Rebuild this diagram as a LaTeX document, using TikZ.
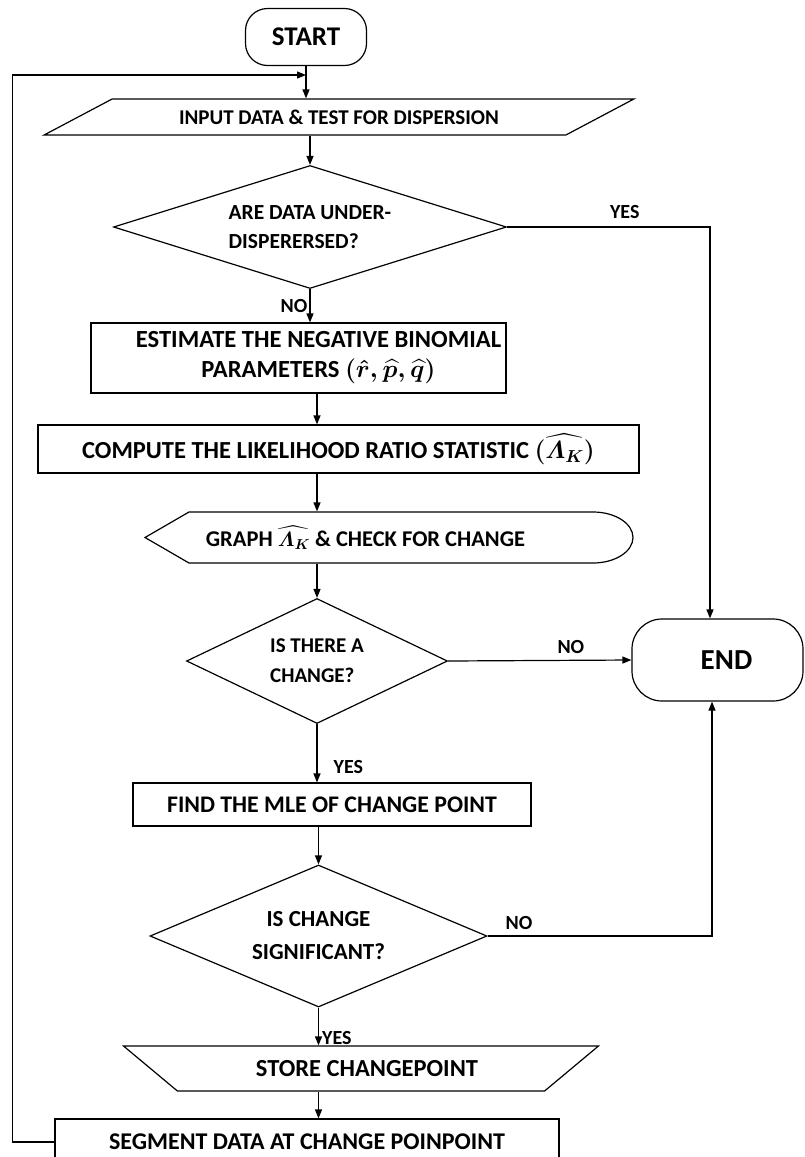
\documentclass[tikz,border=0pt]{standalone}
\usepackage{amsmath}
\usepackage{amsbsy}
\usepackage{fontspec}
\setmainfont{Carlito}
\usetikzlibrary{arrows.meta,calc,shapes.geometric}
\newcommand{\params}{\ensuremath{\boldsymbol{(\hat{r},\widehat{p},\widehat{q})}}}
\newcommand{\lrstat}{\ensuremath{\boldsymbol{\widehat{\varLambda_K}}}}

\begin{document}
\begin{tikzpicture}[
    x=1pt, y=-1pt,
    line width=1.2pt,
    term/.style={draw, rectangle, rounded corners=22pt, inner sep=0pt},
    proc/.style={draw, rectangle, inner sep=0pt},
    decision/.style={draw, diamond, aspect=3, inner sep=0pt},
    lbl/.style={font=\fontsize{20}{24}\selectfont\bfseries, inner sep=2pt},
    arr/.style={-{Triangle[length=9pt,width=7pt]}}
  ]
    \path[fill=white] (0,0) rectangle (804,1157);
    \useasboundingbox (0,0) rectangle (804,1157);

    \node[term, minimum width=121pt, minimum height=57pt, font=\fontsize{27}{32}\selectfont\bfseries] (start) at (306,37) {START};
    \coordinate (join) at (306,75);
    \node[draw, trapezium, trapezium left angle=17, trapezium right angle=163, trapezium stretches=true,
      minimum width=592pt, minimum height=36pt, inner sep=0pt, font=\fontsize{21}{25}\selectfont\bfseries] (input) at (339,117) {INPUT DATA \& TEST FOR DISPERSION};
    \node[decision, minimum width=393pt, minimum height=123pt, align=left, font=\fontsize{21.5}{29}\selectfont\bfseries] (under) at (310,227) {ARE DATA UNDER-\\DISPERERSED?};
    \node[proc, minimum width=415pt, minimum height=70pt,
      label={[xshift=20pt, align=center, font=\fontsize{24.6}{30}\selectfont\bfseries]center:ESTIMATE THE NEGATIVE BINOMIAL\\PARAMETERS \params}] (estimate) at (298.5,358) {};
    \node[proc, minimum width=601pt, minimum height=48pt, font=\fontsize{24.5}{30}\selectfont\bfseries] (compute) at (338.5,449) {COMPUTE THE LIKELIHOOD RATIO STATISTIC \ensuremath{\boldsymbol{(}}\lrstat\ensuremath{\boldsymbol{)}}};
    \node[minimum height=51pt, inner sep=0pt, font=\fontsize{22.5}{27}\selectfont\bfseries] (graph) at (365.5,537.5) {GRAPH \lrstat{} \& CHECK FOR CHANGE};
    \draw ($(graph.center)+(-220.5,0)$) -- ++(44,-25.5) -- ++(404,0)
      arc[start angle=90, end angle=-90, x radius=40pt, y radius=25.5pt] -- ++(-404,0) -- cycle;
    \node[decision, minimum width=261pt, minimum height=125pt, align=left, font=\fontsize{21}{30}\selectfont\bfseries] (change) at (317,661) {IS THERE A\\CHANGE?};
    \node[term, rounded corners=30pt, minimum width=171pt, minimum height=82pt,
      label={[xshift=9pt, font=\fontsize{29}{34}\selectfont\bfseries]center:END}] (stop) at (717.5,660) {};
    \node[proc, minimum width=398pt, minimum height=43pt, font=\fontsize{23.8}{28}\selectfont\bfseries] (mle) at (332,804.5) {FIND THE MLE OF CHANGE POINT};
    \node[decision, minimum width=337pt, minimum height=142pt, align=center, font=\fontsize{23}{33}\selectfont\bfseries] (sig) at (318.5,936) {IS CHANGE\\SIGNIFICANT?};
    \node[draw, trapezium, shape border rotate=180, trapezium angle=25.3, trapezium stretches=true,
      minimum width=476pt, minimum height=45pt, inner sep=0pt, font=\fontsize{24.5}{28}\selectfont\bfseries] (store) at (361,1068.5) {\hspace*{12pt}STORE CHANGEPOINT};
    \node[proc, minimum width=504pt, minimum height=46pt, font=\fontsize{24}{28}\selectfont\bfseries] (segment) at (307,1142) {SEGMENT DATA AT CHANGE POINPOINT};

    \draw[arr] (start) -- (start |- input.north);
    \draw[arr] (under.north |- input.south) -- (under.north);
    \draw[arr] (under.south) -- node[lbl, left, pos=0.5]{NO} (under.south |- estimate.north);
    \draw[arr] (under.east) -| node[lbl, above=6pt, pos=0.29]{YES} ([xshift=-7.5pt]stop.north);
    \draw[arr] (estimate.south -| change.north) -- (compute.north -| change.north);
    \draw[arr] (compute.south -| change.north) -- (graph.north -| change.north);
    \draw[arr] (graph.south -| change.north) -- (change.north);
    \draw[arr] (change.east) -- node[lbl, above=4pt, pos=0.67]{NO} (stop.west);
    \draw[arr] (change.south) -- node[lbl, right=14pt, pos=0.73]{YES} (change.south |- mle.north);
    \draw[arr] (mle.south -| sig.north) -- (sig.north);
    \draw[arr] (sig.east) -| node[lbl, above=4pt, pos=0.07]{NO} ([xshift=-5.5pt]stop.south);
    \draw[arr] (sig.south) -- node[lbl, right=1pt, pos=0.8]{YES} (sig.south |- store.north);
    \draw[arr] (store.south -| sig.south) -- (segment.north -| sig.south);
    \draw[arr] (segment.west) -- ++(-42,0) |- (join);
  \end{tikzpicture}
\end{document}
